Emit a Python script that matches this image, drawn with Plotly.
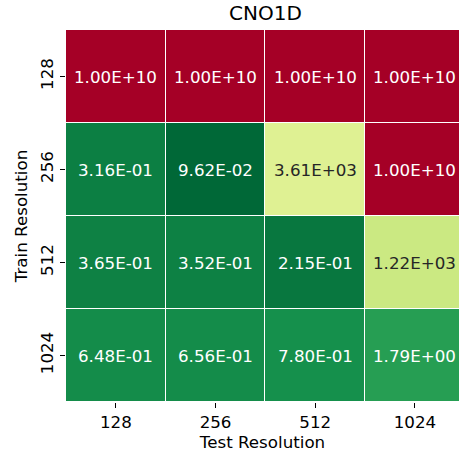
import numpy as np
import plotly.graph_objects as go
from plotly.colors import sample_colorscale, get_colorscale

title = "CNO1D"
test_res = ["128", "256", "512", "1024"]
train_res = ["128", "256", "512", "1024"]
errors = [
    [1.00e10, 1.00e10, 1.00e10, 1.00e10],
    [3.16e-01, 9.62e-02, 3.61e03, 1.00e10],
    [3.65e-01, 3.52e-01, 2.15e-01, 1.22e03],
    [6.48e-01, 6.56e-01, 7.80e-01, 1.79e00],
]

vals = np.array(errors)
z = np.log10(vals)
zmin, zmax = z.min(), z.max()
cs = get_colorscale("RdYlGn_r")

def lum(rgb):
    def ch(c):
        c = c / 255.0
        return c / 12.92 if c <= 0.03928 else ((c + 0.055) / 1.055) ** 2.4
    r, g, b = rgb
    return 0.2126 * ch(r) + 0.7152 * ch(g) + 0.0722 * ch(b)

FS = 16.7
ny, nx = vals.shape
fig = go.Figure()
fig.add_trace(go.Heatmap(
    z=z, x=list(range(nx)), y=list(range(ny)),
    colorscale="RdYlGn_r", zmin=zmin, zmax=zmax, showscale=False,
    xgap=1, ygap=1, hoverinfo="skip",
))

annotations = []
for i in range(ny):
    for j in range(nx):
        t = (z[i, j] - zmin) / (zmax - zmin)
        col = sample_colorscale(cs, [t], colortype="tuple")[0]
        rgb = [c * 255 if max(col) <= 1 else c for c in col]
        tc = "#262626" if lum(rgb) > 0.408 else "white"
        annotations.append(dict(
            x=j, y=i, xref="x", yref="y", text=f"{vals[i, j]:.2E}",
            showarrow=False, font=dict(size=FS, color=tc, family="DejaVu Sans"),
        ))
annotations.append(dict(
    x=1.5, y=1, xref="x", yref="paper", text=title, showarrow=False,
    yanchor="bottom", yshift=3, font=dict(size=20, color="black", family="DejaVu Sans"),
))

L, T, B = 66, 30, 54
W, H = 459, 456
cellw = 99.7
xr = -0.5 + (W - L) / cellw

fig.update_layout(
    width=W, height=H, margin=dict(l=L, r=0, t=T, b=B),
    paper_bgcolor="white", plot_bgcolor="white",
    font=dict(family="DejaVu Sans", size=FS, color="black"),
    annotations=annotations,
    xaxis=dict(range=[-0.5, xr], tickvals=list(range(nx)), ticktext=test_res,
               ticks="outside", ticklen=5, tickcolor="black", showgrid=False,
               zeroline=False, showline=False,
               title=dict(text="Test Resolution", font=dict(size=FS), standoff=2),
               tickfont=dict(size=FS)),
    yaxis=dict(range=[ny - 0.5, -0.5], tickvals=list(range(ny)), ticktext=train_res,
               ticks="outside", ticklen=5, tickcolor="black", showgrid=False,
               zeroline=False, showline=False, tickangle=-90,
               title=dict(text="Train Resolution", font=dict(size=FS), standoff=5),
               tickfont=dict(size=FS)),
)

fig.write_html("out.html")
